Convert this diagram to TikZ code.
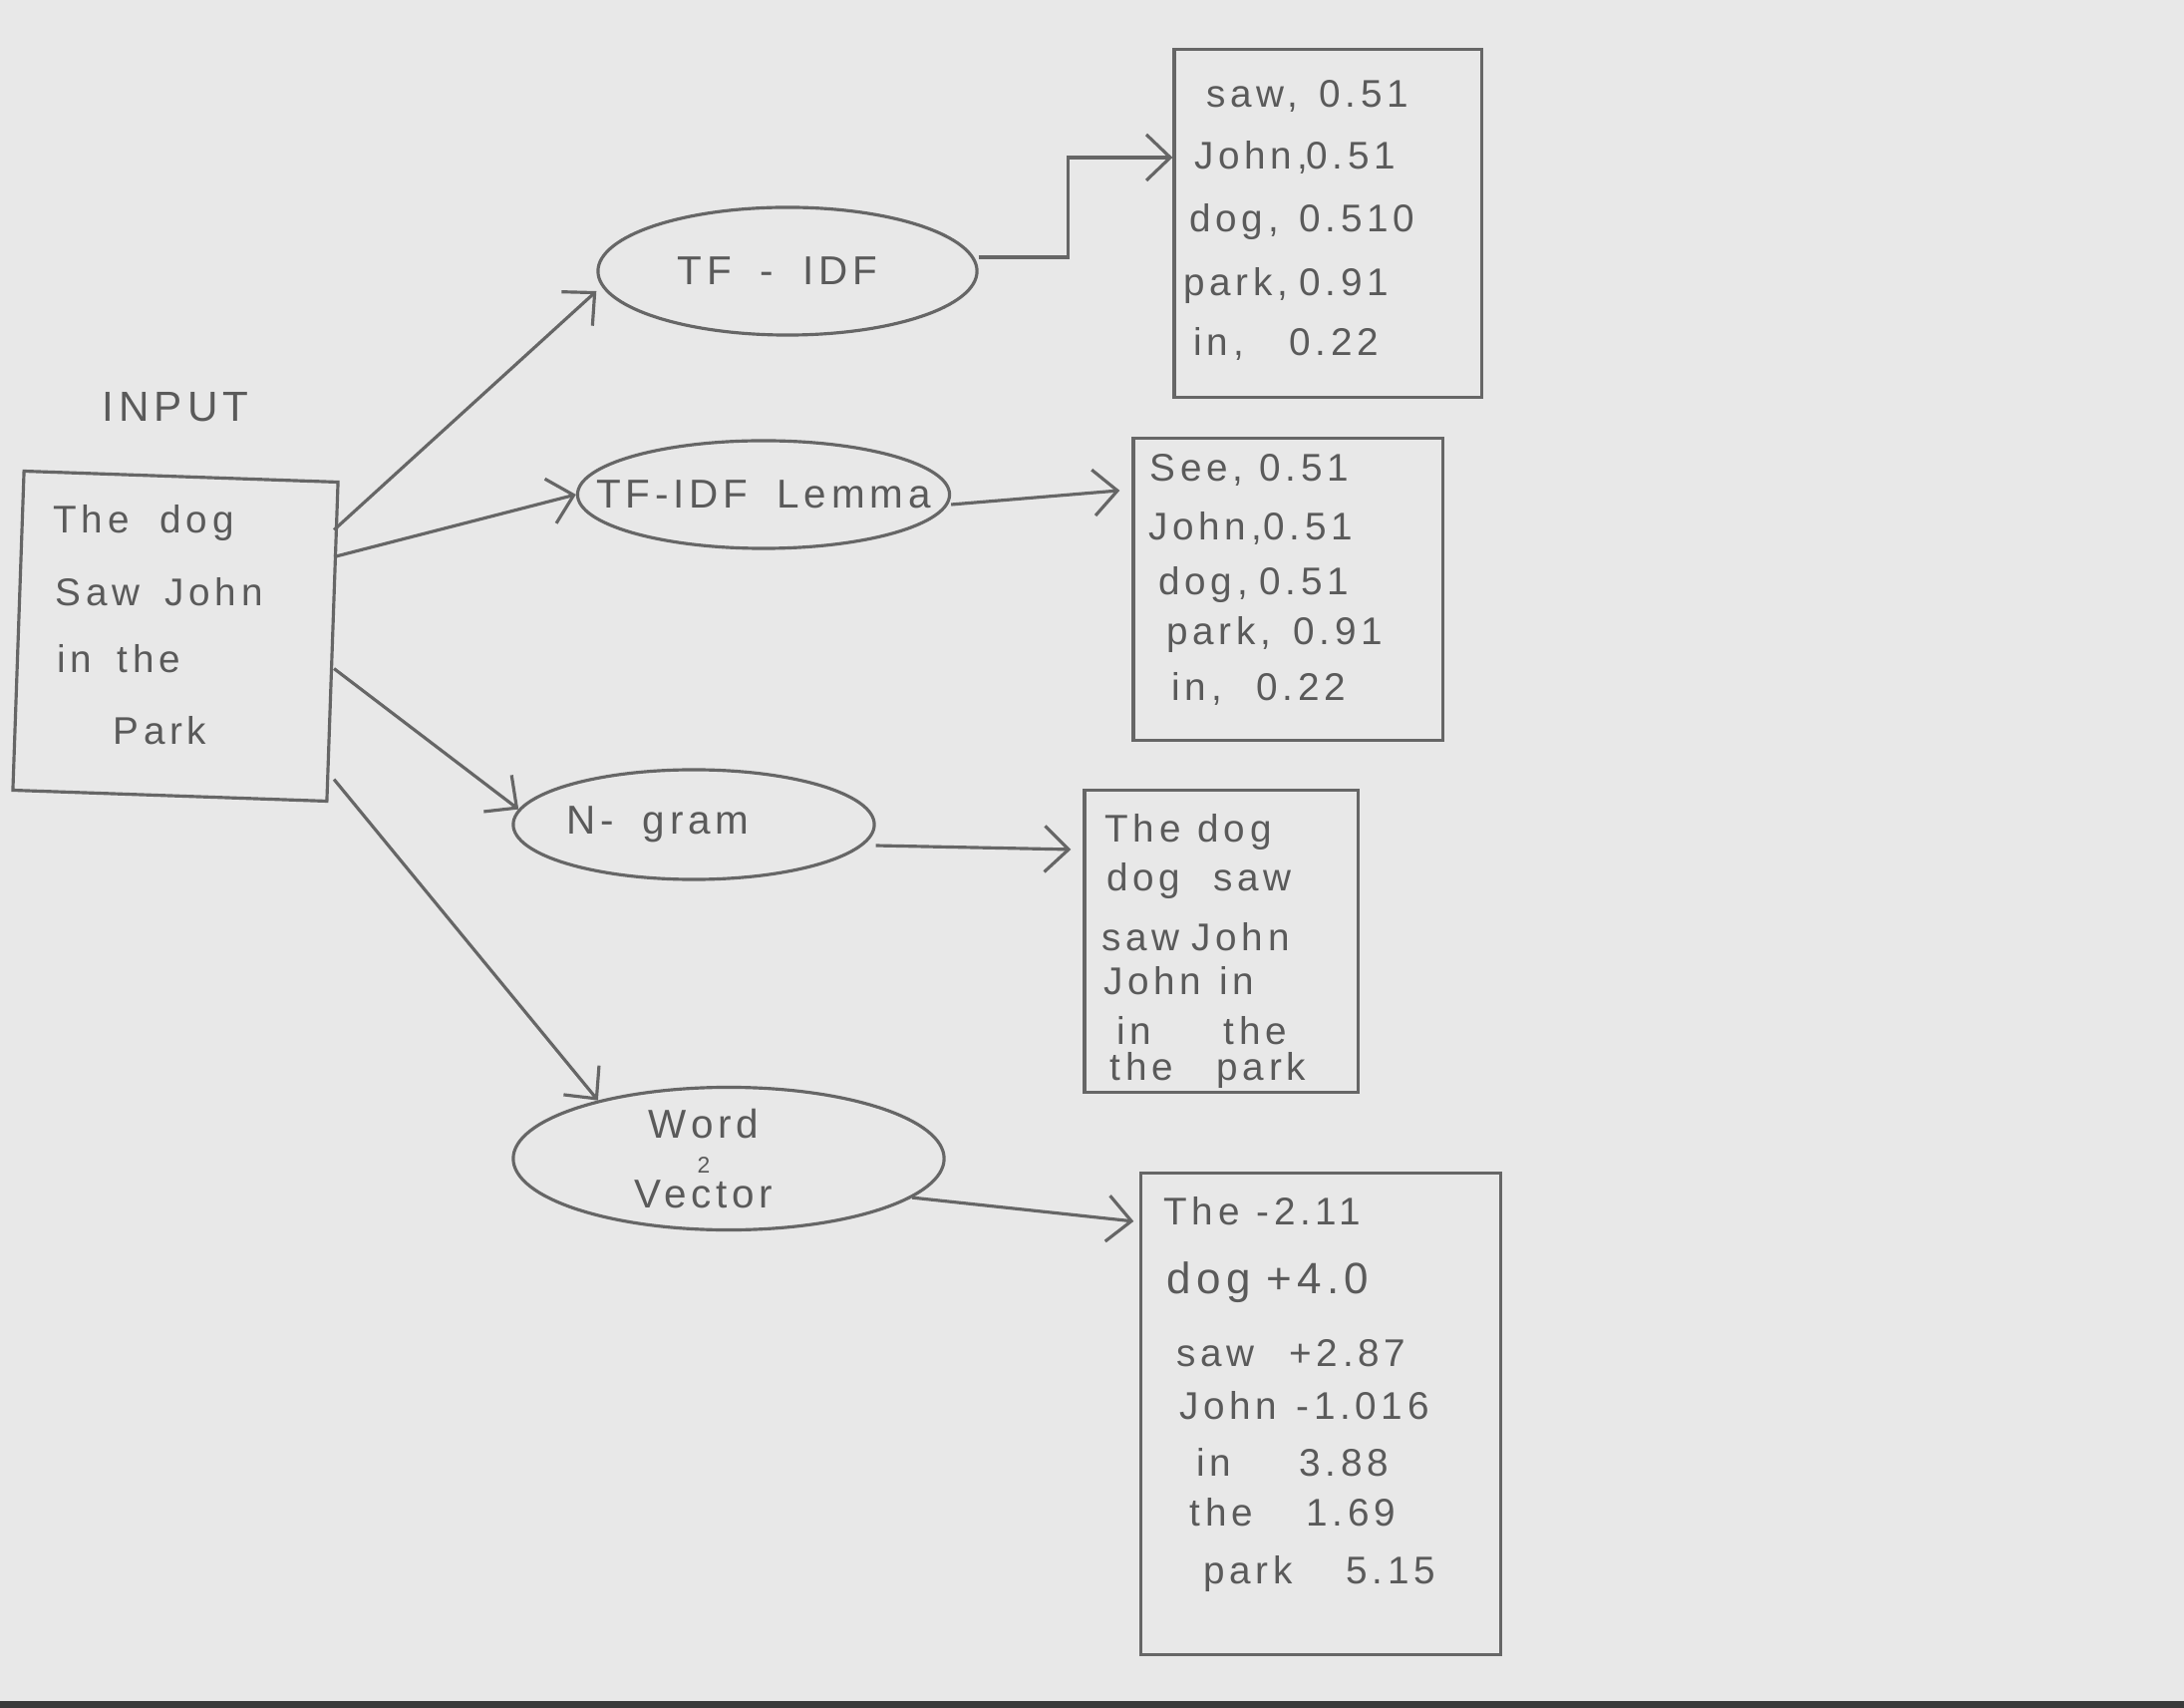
\documentclass[tikz,border=0pt]{standalone}
\usepackage{fontspec}
\setmainfont{Liberation Sans}
\newfontfamily\hand{Liberation Sans}[LetterSpace=12,WordSpace=1.8]
\usetikzlibrary{shapes.geometric,arrows.meta}
\definecolor{paper}{HTML}{E8E8E8}
\definecolor{pencil}{HTML}{666666}
\definecolor{ink}{HTML}{5A5A5A}
\definecolor{scanedge}{HTML}{3A3A3A}
\newcommand\wcol[2]{\rlap{#1}\hspace{#2}}
\newcommand\zw[1]{\makebox[0pt]{#1}}
\begin{document}
\begin{tikzpicture}[x=0.01cm,y=-0.01cm,
  txt/.style={anchor=base west,inner sep=0pt,text=ink,font=\hand\fontsize{11}{13}\selectfont},
  bigtxt/.style={txt,font=\hand\fontsize{12.5}{14}\selectfont},
  box/.style={draw=pencil,line width=0.9pt,rectangle,inner sep=0pt},
  oval/.style={draw=pencil,line width=0.9pt,ellipse,inner sep=0pt,text=ink,font=\hand\fontsize{11.5}{13}\selectfont,align=center},
  arr/.style={draw=pencil,line width=0.9pt,-{Straight Barb[length=2.4mm,width=4.6mm]}},
]
% paper
\fill[paper] (0,0) rectangle (2191,1713);
\fill[scanedge] (0,1706) rectangle (2191,1713);
\useasboundingbox (0,0) rectangle (2191,1713);

% input
\node[txt,font=\hand\fontsize{12}{14}\selectfont] (inlabel) at (102,423) {INPUT};
\node[box,minimum width=3.15cm,minimum height=3.2cm,rotate=-2] (in) at (176,638) {};
\node[txt] (in1) at (53,535) {\wcol{The}{1.07cm}dog};
\node[txt] (in2) at (55,608) {\wcol{Saw}{1.10cm}John};
\node[txt] (in3) at (57,675) {\wcol{in}{0.60cm}the};
\node[txt] (in4) at (113,747) {Park};

% methods
\node[oval,minimum width=3.8cm,minimum height=1.28cm] (tfidf) at (790,272) {\zw{TF - IDF\hspace{0.2cm}}};
\node[oval,minimum width=3.73cm,minimum height=1.08cm] (lemma) at (766,496) {\zw{TF-IDF Lemma}};
\node[oval,minimum width=3.62cm,minimum height=1.1cm] (ngram) at (696,827) {\zw{N- gram\hspace{0.72cm}}};
\node[oval,minimum width=4.32cm,minimum height=1.43cm,font=\hand\fontsize{11.5}{10}\selectfont] (w2v) at (731,1162)
  {\zw{Word\hspace{0.5cm}}\\\zw{{\fontsize{6.5}{7}\selectfont 2}\hspace{0.5cm}}\\\zw{Vector\hspace{0.5cm}}};

% output boxes
\node[box,minimum width=3.08cm,minimum height=3.48cm] (b1) at (1332,224) {};
\node[box,minimum width=3.1cm,minimum height=3.02cm] (b2) at (1292,591) {};
\node[box,minimum width=2.74cm,minimum height=3.02cm] (b3) at (1225,944) {};
\node[box,minimum width=3.6cm,minimum height=4.83cm] (b4) at (1325,1418) {};

% box 1 text
\node[txt] (b1r1) at (1210,108) {\wcol{saw,}{1.13cm}0.51};
\node[txt] (b1r2) at (1198,170) {\wcol{John,}{1.12cm}0.51};
\node[txt] (b1r3) at (1193,233) {\wcol{dog,}{1.10cm}0.510};
\node[txt] (b1r4) at (1187,297) {\wcol{park,}{1.16cm}0.91};
\node[txt] (b1r5) at (1197,357) {\wcol{in,}{0.96cm}0.22};

% box 2 text
\node[txt] (b2r1) at (1153,483) {\wcol{See,}{1.10cm}0.51};
\node[txt] (b2r2) at (1152,542) {\wcol{John,}{1.15cm}0.51};
\node[txt] (b2r3) at (1162,597) {\wcol{dog,}{1.01cm}0.51};
\node[txt] (b2r4) at (1170,647) {\wcol{park,}{1.27cm}0.91};
\node[txt] (b2r5) at (1175,703) {\wcol{in,}{0.85cm}0.22};

% box 3 text
\node[txt] (b3r1) at (1108,845) {\wcol{The}{0.93cm}dog};
\node[txt] (b3r2) at (1110,893) {\wcol{dog}{1.07cm}saw};
\node[txt] (b3r3) at (1105,953) {\wcol{saw}{0.90cm}John};
\node[txt] (b3r4) at (1107,998) {\wcol{John}{1.16cm}in};
\node[txt] (b3r5) at (1120,1047) {\wcol{in}{1.07cm}the};
\node[txt] (b3r6) at (1113,1083) {\wcol{the}{1.07cm}park};

% box 4 text
\node[txt] (b4r1) at (1167,1228) {\wcol{The}{0.93cm}-2.11};
\node[bigtxt] (b4r2) at (1170,1297) {\wcol{dog}{1.00cm}+4.0};
\node[txt] (b4r3) at (1180,1370) {\wcol{saw}{1.13cm}+2.87};
\node[txt] (b4r4) at (1183,1423) {\wcol{John}{1.17cm}-1.016};
\node[txt] (b4r5) at (1200,1480) {\wcol{in}{1.03cm}3.88};
\node[txt] (b4r6) at (1193,1530) {\wcol{the}{1.17cm}1.69};
\node[txt] (b4r7) at (1207,1588) {\wcol{park}{1.43cm}5.15};

% connectors from input
\draw[arr] ([yshift=1.12cm]in.east) -- ([yshift=-0.2cm]tfidf.west);
\draw[arr] ([yshift=0.85cm]in.east) -- (lemma.west);
\draw[arr] ([yshift=-0.27cm]in.east) -- (ngram.175);
\draw[arr] ([yshift=-1.38cm]in.east) -- (w2v.156);

% connectors to outputs
\draw[arr] ([yshift=0.14cm]tfidf.east) -- ++(90,0) |- ([yshift=0.66cm]b1.west);
\draw[arr] ([yshift=-0.1cm]lemma.east) -- ([xshift=-0.12cm,yshift=0.99cm]b2.west);
\draw[arr] ([yshift=-0.21cm]ngram.east) -- ([xshift=-0.12cm,yshift=0.92cm]b3.west);
\draw[arr] (w2v.-12) -- ([xshift=-0.06cm,yshift=1.93cm]b4.west);
\end{tikzpicture}
\end{document}
